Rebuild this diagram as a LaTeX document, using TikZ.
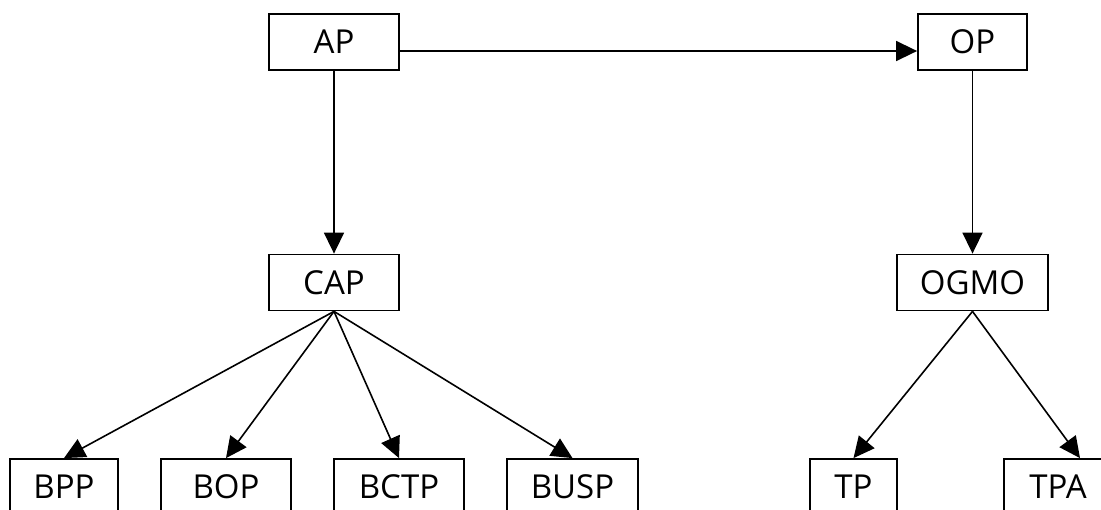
\documentclass[tikz,border=0pt]{standalone}
\usepackage{fontspec}
\setmainfont{Open Sans}
\usepackage{tikz}
\usetikzlibrary{arrows.meta}

\begin{document}
\begin{tikzpicture}[x=1pt, y=-1pt,
  box/.style={draw, line width=1.8pt, minimum height=56pt, inner sep=0pt,
    font=\fontsize{33}{38}\selectfont},
  link/.style={line width=1.6pt, -{Triangle[length=21pt, width=20pt]}}]
  \clip (0,0) rectangle (1101,509);
  \node[box, minimum width=130pt] (ap) at (334,42) {AP};
  \node[box, minimum width=109pt] (op) at (972.5,42) {OP};
  \node[box, minimum width=130pt] (cap) at (334,282.5) {CAP};
  \node[box, minimum width=151pt] (ogmo) at (972.5,282.5) {OGMO};
  \node[box, minimum width=108pt] (bpp) at (64,487) {BPP};
  \node[box, minimum width=130pt] (bop) at (226,487) {BOP};
  \node[box, minimum width=130pt] (bctp) at (399,487) {BCTP};
  \node[box, minimum width=131pt] (busp) at (572.5,487) {BUSP};
  \node[box, minimum width=87pt] (tp) at (853.5,487) {TP};
  \node[box, minimum width=108pt] (tpa) at (1058,487) {TPA};
  \draw[link] ([yshift=-9pt]ap.east) -- ([yshift=-9pt]op.west);
  \draw[link] (ap) -- (cap);
  \draw[link] (op) -- (ogmo);
  \foreach \leaf in {bpp, bop, bctp, busp}
    \draw[link] (cap.south) -- (\leaf.north);
  \draw[link] (ogmo.south) -- (tp.north);
  \draw[link] (ogmo.south) -- ([xshift=22pt]tpa.north);
\end{tikzpicture}
\end{document}
